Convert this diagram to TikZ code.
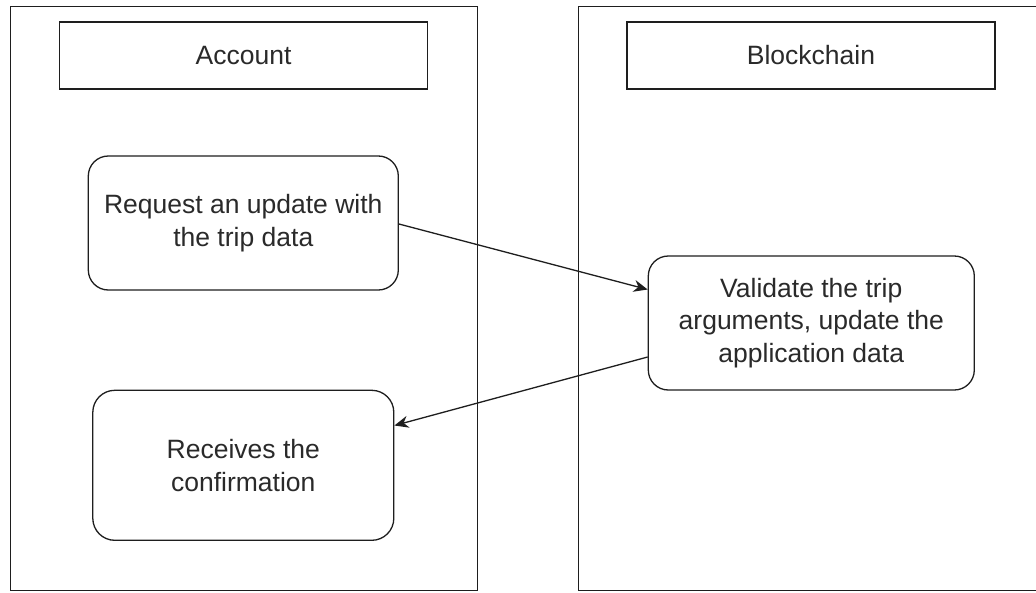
\documentclass[tikz,border=0pt]{standalone}
\usepackage{fontspec}
\setmainfont{Liberation Sans}
\usetikzlibrary{arrows.meta}
\definecolor{ink}{HTML}{1E1E1E}
\definecolor{label}{HTML}{2A2A2A}
\tikzset{
  lane/.style={draw=ink, line width=1.4pt, anchor=north west, inner sep=0pt},
  header/.style={draw=ink, line width=1.4pt, inner sep=0pt, text=label,
    font=\fontsize{26.5}{33}\selectfont},
  stepbox/.style={draw=ink, line width=1.3pt, rounded corners=20pt, inner sep=0pt,
    align=center, text=label, font=\fontsize{26.5}{32.5}\selectfont},
  flow/.style={draw=ink, line width=1.3pt,
    -{Stealth[length=14pt, width=12pt, inset=4.5pt]}}
}
\begin{document}
\begin{tikzpicture}[x=1pt, y=-1pt]
  \clip (0,0) rectangle (1036,592);
  \fill[white] (0,0) rectangle (1036,592);

  % swimlanes
  \node[lane, minimum width=467.5pt, minimum height=584pt] (accountlane) at (9.5,6) {};
  \node[lane, minimum width=480pt, minimum height=584pt] (chainlane) at (577.5,6) {};

  % lane titles
  \node[header, minimum width=368pt, minimum height=67pt] (account) at (243.5,55.5) {Account};
  \node[header, minimum width=368pt, minimum height=67pt] (chain) at (811,55.5) {Blockchain};

  % process steps
  \node[stepbox, minimum width=310pt, minimum height=134pt] (request) at (243.3,223)
    {Request an update with\\the trip data};
  \node[stepbox, minimum width=326pt, minimum height=134pt] (validate) at (811.3,323)
    {Validate the trip\\arguments, update the\\application data};
  \node[stepbox, minimum width=301pt, minimum height=150pt, rounded corners=22pt] (receive) at (243.3,465.3)
    {Receives the\\confirmation};

  % messages between the lanes
  \draw[flow] (request.east |- 0,224) -- (validate.west |- 0,289.5);
  \draw[flow] (validate.west |- 0,357) -- (receive.east |- 0,425.5);
\end{tikzpicture}
\end{document}
